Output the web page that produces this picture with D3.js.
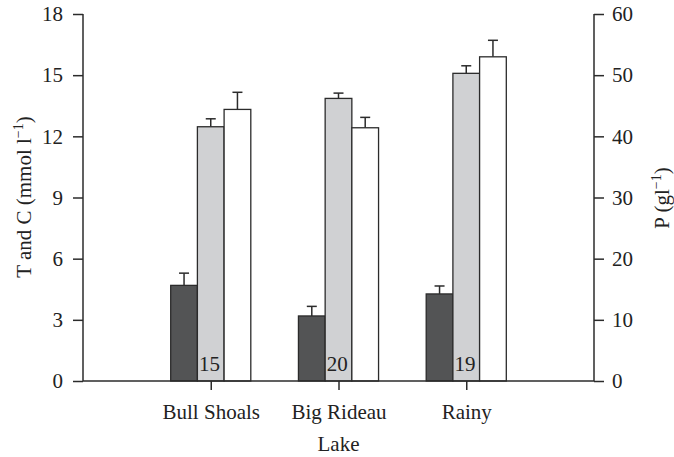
<!DOCTYPE html>
<html>

<head>
  <title>Lake T, C and P</title>
  <style>
    body { margin: 0; background: #fff; }
    svg { display: block; }
    text { font-family: "Liberation Serif", "DejaVu Serif", serif; fill: #222; }
  </style>
</head>

<body>

  <svg id="main" width="674" height="457" font-family="Liberation Serif, serif"></svg>

  <script src="https://cdn.jsdelivr.net/npm/d3@7"></script>
  <script>

    const lakes = ['Bull Shoals', 'Big Rideau', 'Rainy']
    const tValues = [4.69, 3.19, 4.27]
    const tErrors = [0.6, 0.47, 0.39]
    const cValues = [12.47, 13.86, 15.09]
    const cErrors = [0.39, 0.26, 0.37]
    const pValues = [44.4, 41.4, 53.0]
    const pErrors = [2.8, 1.7, 2.7]
    const sampleSizes = [15, 20, 19]
    const leftTicks = [0, 3, 6, 9, 12, 15, 18]
    const rightTicks = [0, 10, 20, 30, 40, 50, 60]

    const svg = d3.select('#main')
    const margin = { top: 14, right: 80, bottom: 76, left: 83 }
    const width = +svg.attr('width')
    const height = +svg.attr('height')
    const innerWidth = width - margin.left - margin.right
    const innerHeight = height - margin.top - margin.bottom
    const fontSize = 21
    const lineColor = '#2b2b2b'

    const chart = svg.append('g')
      .attr('transform', `translate(${margin.left},${margin.top})`)

    const x = d3.scalePoint()
      .domain(lakes)
      .range([0, innerWidth])
      .padding(1)

    const barWidth = x.step() * 0.209

    const yLeft = d3.scaleLinear().domain([0, 18]).range([innerHeight, 0])
    const yRight = d3.scaleLinear().domain([0, 60]).range([innerHeight, 0])

    // bar series: offset in bar widths from the category centre
    const series = [
      { values: tValues, errors: tErrors, y: yLeft, fill: '#535455', offset: -1.5 },
      { values: cValues, errors: cErrors, y: yLeft, fill: '#d0d1d3', offset: -0.5 },
      { values: pValues, errors: pErrors, y: yRight, fill: '#ffffff', offset: 0.5 }
    ]

    // error bars first so the bar edges sit on top
    series.forEach(s => {
      const g = chart.append('g')
        .attr('stroke', lineColor)
        .attr('stroke-width', 1.5)
      lakes.forEach((lake, i) => {
        const cx = x(lake) + (s.offset + 0.5) * barWidth
        const top = s.y(s.values[i] + s.errors[i])
        g.append('line')
          .attr('x1', cx).attr('x2', cx)
          .attr('y1', s.y(s.values[i])).attr('y2', top)
        g.append('line')
          .attr('x1', cx - 5).attr('x2', cx + 5)
          .attr('y1', top).attr('y2', top)
      })
    })

    series.forEach(s => {
      chart.append('g')
        .selectAll('rect')
        .data(lakes)
        .join('rect')
        .attr('x', d => x(d) + s.offset * barWidth)
        .attr('y', (d, i) => s.y(s.values[i]))
        .attr('width', barWidth)
        .attr('height', (d, i) => innerHeight - s.y(s.values[i]))
        .attr('fill', s.fill)
        .attr('stroke', lineColor)
        .attr('stroke-width', 1.3)
    })

    // sample sizes inside the grey bars
    chart.append('g')
      .selectAll('text')
      .data(lakes)
      .join('text')
      .attr('x', d => x(d) + 0.5 * barWidth - 4)
      .attr('y', innerHeight - 10)
      .attr('text-anchor', 'end')
      .attr('font-size', fontSize)
      .text((d, i) => sampleSizes[i])

    // axes
    const leftAxis = chart.append('g')
      .call(d3.axisLeft(yLeft).tickValues(leftTicks).tickSize(10).tickPadding(10))
    const rightAxis = chart.append('g')
      .attr('transform', `translate(${innerWidth},0)`)
      .call(d3.axisRight(yRight).tickValues(rightTicks).tickSize(10).tickPadding(8))
    const bottomAxis = chart.append('g')
      .attr('transform', `translate(0,${innerHeight})`)
      .call(d3.axisBottom(x).tickSize(9).tickPadding(14))

    ;[leftAxis, rightAxis, bottomAxis].forEach(a => {
      a.attr('font-family', null).attr('font-size', null).attr('fill', null)
      a.selectAll('path').attr('d', null)
      a.selectAll('line').attr('stroke', lineColor).attr('stroke-width', 1.5)
      a.selectAll('text')
        .attr('font-size', fontSize)
        .attr('fill', '#222')
    })
    bottomAxis.selectAll('text').attr('dy', '0.71em')

    // axis lines
    const frame = chart.append('g')
      .attr('stroke', lineColor)
      .attr('stroke-width', 1.5)
    frame.append('line').attr('x1', 0).attr('x2', 0).attr('y1', 0).attr('y2', innerHeight)
    frame.append('line').attr('x1', innerWidth).attr('x2', innerWidth).attr('y1', 0).attr('y2', innerHeight)
    frame.append('line').attr('x1', 0).attr('x2', innerWidth).attr('y1', innerHeight).attr('y2', innerHeight)

    // axis titles
    svg.append('text')
      .attr('x', margin.left + innerWidth / 2)
      .attr('y', 451)
      .attr('text-anchor', 'middle')
      .attr('font-size', fontSize)
      .text('Lake')

    const leftTitle = svg.append('text')
      .attr('transform', 'translate(31,197) rotate(-90)')
      .attr('text-anchor', 'middle')
      .attr('font-size', fontSize)
    leftTitle.append('tspan').text('T and C (mmol l')
    leftTitle.append('tspan').attr('font-size', 14).attr('dy', -8).text('\u22121')
    leftTitle.append('tspan').attr('dy', 8).text(')')

    const rightTitle = svg.append('text')
      .attr('transform', 'translate(669,198) rotate(-90)')
      .attr('text-anchor', 'middle')
      .attr('font-size', fontSize)
    rightTitle.append('tspan').text('P (gl')
    rightTitle.append('tspan').attr('font-size', 14).attr('dy', -8).text('\u22121')
    rightTitle.append('tspan').attr('dy', 8).text(')')

  </script>
</body>

</html>
